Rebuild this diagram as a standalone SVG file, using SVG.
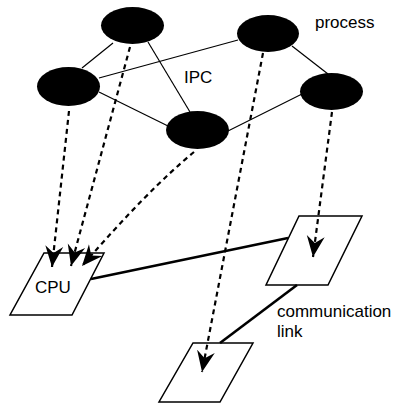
<svg xmlns="http://www.w3.org/2000/svg" width="394" height="407" viewBox="0 0 394 407">
  <style>
    .ipc { stroke: #000; stroke-width: 1.2; fill: none; }
    .link { stroke: #000; stroke-width: 2.6; fill: none; }
    .map { stroke: #000; stroke-width: 2.2; fill: none; stroke-dasharray: 5 4; marker-end: url(#head); }
    .proc { fill: #000; }
    .cpu { fill: #fff; stroke: #000; stroke-width: 1.5; }
    .lbl { font-family: "Liberation Sans", Arial, sans-serif; font-size: 17px; fill: #000; }
  </style>
  <defs>
    <marker id="head" viewBox="0 -10 22 20" refX="21" refY="0" markerWidth="22" markerHeight="20" markerUnits="userSpaceOnUse" orient="auto">
      <path d="M0,-9 L21,0 L0,9 L7,0 Z" fill="#000"/>
    </marker>
  </defs>

  <rect width="394" height="407" fill="#fff"/>

  <!-- processors -->
  <g id="cpu-a">
    <polygon class="cpu" points="44,253 104,253 72,315 10,315"/>
    <text class="lbl" x="35" y="293">CPU</text>
  </g>
  <g id="cpu-b">
    <polygon class="cpu" points="299,216 362,216 328,285 266,285"/>
  </g>
  <g id="cpu-c">
    <polygon class="cpu" points="193,343 253,343 220,402 159,402"/>
  </g>

  <!-- IPC links between processes, communication links between processors, and process placement arrows -->
  <g id="connectors">
    <line class="ipc" x1="113" y1="43" x2="82" y2="68"/>
    <line class="ipc" x1="148" y1="42" x2="190" y2="112"/>
    <line class="ipc" x1="99" y1="78" x2="238" y2="40"/>
    <line class="ipc" x1="99" y1="92" x2="168" y2="126"/>
    <line class="ipc" x1="292" y1="46" x2="328" y2="74"/>
    <line class="ipc" x1="228" y1="131" x2="302" y2="94"/>

    <line class="link" x1="91" y1="279" x2="288" y2="238"/>
    <line class="link" x1="297" y1="285" x2="220" y2="343"/>

    <path class="map" d="M69,111 L52,267"/>
    <path class="map" d="M130,47 L71,266"/>
    <path class="map" d="M194,152 Q148,190 82,266"/>
    <path class="map" d="M263,53 L202,372"/>
    <path class="map" d="M332,112 L313,257"/>
  </g>

  <!-- processes -->
  <g id="proc-1"><ellipse class="proc" cx="132.5" cy="25.5" rx="31.5" ry="18.5"/></g>
  <g id="proc-2"><ellipse class="proc" cx="268" cy="33.5" rx="31" ry="18.5"/></g>
  <g id="proc-3"><ellipse class="proc" cx="68.5" cy="86.5" rx="31.5" ry="19.5"/></g>
  <g id="proc-4"><ellipse class="proc" cx="331.5" cy="91.5" rx="31.5" ry="18.5"/></g>
  <g id="proc-5"><ellipse class="proc" cx="197.5" cy="130" rx="31.5" ry="19"/></g>

  <!-- labels -->
  <g id="labels">
    <text class="lbl" x="315" y="28">process</text>
    <text class="lbl" x="184" y="83">IPC</text>
    <text class="lbl" x="277" y="317">communication</text>
    <text class="lbl" x="277" y="337">link</text>
  </g>
</svg>
